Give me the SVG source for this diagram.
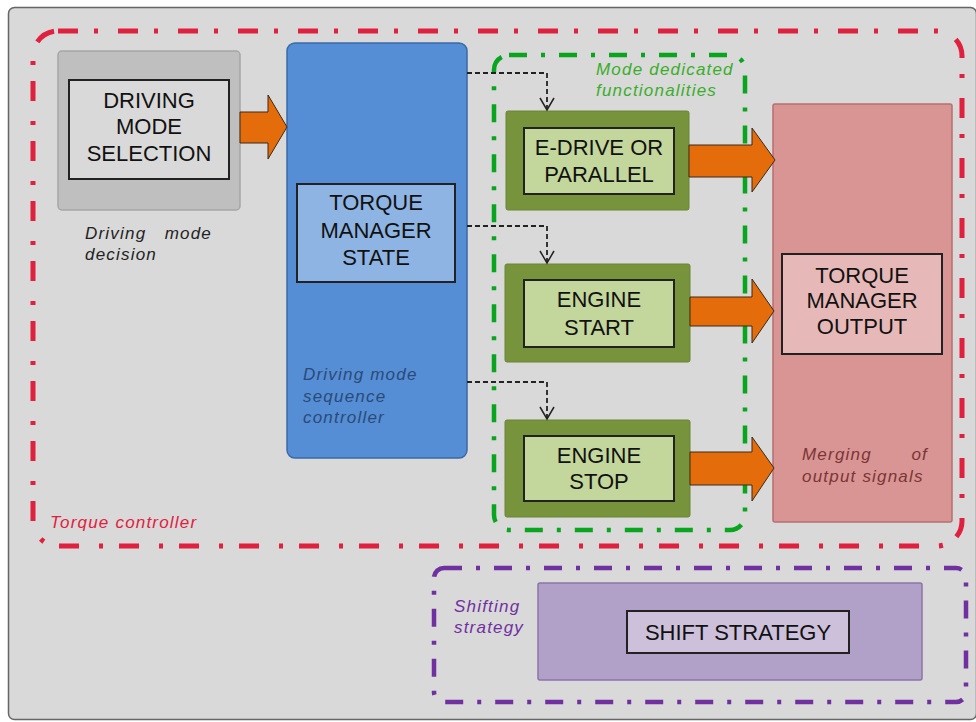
<svg xmlns="http://www.w3.org/2000/svg" width="976" height="722" viewBox="0 0 976 722">
<style>
text{font-family:"Liberation Sans",Arial,sans-serif;}
.bt{font-size:22px;fill:#111;text-anchor:middle;}
.lab{font-size:17px;font-style:italic;letter-spacing:1.2px;}
.dash{fill:none;stroke:#222;stroke-width:1.8;stroke-dasharray:5 3;}
.orange{fill:#e46c0a;stroke:#3a2a1a;stroke-width:1;}
.inner{stroke:#222;stroke-width:2;}
</style>
<defs>
<marker id="chev" markerUnits="userSpaceOnUse" markerWidth="16" markerHeight="16" refX="13" refY="8" orient="auto">
<path d="M1,1 L13,8 L1,15" fill="none" stroke="#222" stroke-width="1.5" stroke-dasharray="none"/>
</marker>
</defs>
<rect x="8.5" y="7.5" width="968" height="712" rx="6" fill="#d9d9d9" stroke="#666" stroke-width="1.5"/>
<g id="torque-controller">
<rect x="33" y="31" width="929" height="515" rx="25" fill="none" stroke="#e0203f" stroke-width="5" stroke-dasharray="20 16 4 20"/>
<text class="lab" x="50" y="528" fill="#e0203f">Torque controller</text>
</g>
<g id="mode-dedicated">
<rect x="494" y="55" width="251" height="475" rx="15" fill="none" stroke="#0aa51e" stroke-width="4.5" stroke-dasharray="18 14 4 14"/>
<text class="lab" x="596" y="75" fill="#3aae2a">Mode dedicated</text>
<text class="lab" x="596" y="96" fill="#3aae2a">functionalities</text>
</g>
<g id="shifting-strategy">
<rect x="434" y="568" width="532" height="134" rx="10" fill="none" stroke="#7030a0" stroke-width="4.5" stroke-dasharray="18 14 4 14"/>
<text class="lab" x="454" y="612" fill="#7030a0">Shifting</text>
<text class="lab" x="454" y="633" fill="#7030a0">strategy</text>
</g>
<g id="driving-mode-selection">
<rect x="58" y="51" width="182" height="159" rx="4" fill="#bfbfbf" stroke="#a6a6a6" stroke-width="1.5"/>
<rect class="inner" x="69" y="80" width="160" height="99" fill="#d9d9d9"/>
<text class="bt" x="149" y="108">DRIVING</text>
<text class="bt" x="149" y="134">MODE</text>
<text class="bt" x="149" y="161">SELECTION</text>
<text class="lab" x="85" y="239" fill="#222">Driving</text>
<text class="lab" x="212" y="239" fill="#222" text-anchor="end">mode</text>
<text class="lab" x="85" y="260" fill="#222">decision</text>
</g>
<g id="torque-manager-state">
<rect x="287" y="43" width="180" height="415" rx="8" fill="#558ed5" stroke="#3a6aa8" stroke-width="1.5"/>
<rect class="inner" x="297" y="184" width="158" height="98" fill="#8eb4e3"/>
<text class="bt" x="376" y="210">TORQUE</text>
<text class="bt" x="376" y="238">MANAGER</text>
<text class="bt" x="376" y="265">STATE</text>
<text class="lab" x="303" y="380" fill="#2b4a78">Driving mode</text>
<text class="lab" x="303" y="402" fill="#2b4a78">sequence</text>
<text class="lab" x="303" y="423" fill="#2b4a78">controller</text>
</g>
<g id="e-drive">
<rect x="506" y="111" width="183" height="99" rx="2" fill="#77933c" stroke="#6a8534" stroke-width="1"/>
<rect class="inner" x="524" y="128" width="150" height="66" fill="#c3d69b"/>
<text class="bt" x="599" y="155">E-DRIVE OR</text>
<text class="bt" x="599" y="182">PARALLEL</text>
</g>
<g id="engine-start">
<rect x="505" y="264" width="185" height="98" rx="2" fill="#77933c" stroke="#6a8534" stroke-width="1"/>
<rect class="inner" x="524" y="280" width="150" height="67" fill="#c3d69b"/>
<text class="bt" x="599" y="307">ENGINE</text>
<text class="bt" x="599" y="335">START</text>
</g>
<g id="engine-stop">
<rect x="505" y="420" width="185" height="97" rx="2" fill="#77933c" stroke="#6a8534" stroke-width="1"/>
<rect class="inner" x="524" y="436" width="150" height="65" fill="#c3d69b"/>
<text class="bt" x="599" y="463">ENGINE</text>
<text class="bt" x="599" y="489">STOP</text>
</g>
<g id="torque-manager-output">
<rect x="773" y="104" width="179" height="418" rx="2" fill="#d99594" stroke="#b86e6d" stroke-width="1.5"/>
<rect class="inner" x="782" y="254" width="160" height="100" fill="#e6b9b8"/>
<text class="bt" x="862" y="283">TORQUE</text>
<text class="bt" x="862" y="308">MANAGER</text>
<text class="bt" x="862" y="334">OUTPUT</text>
<text class="lab" x="802" y="460" fill="#7a3535">Merging</text>
<text class="lab" x="928" y="460" fill="#7a3535" text-anchor="end">of</text>
<text class="lab" x="802" y="482" fill="#7a3535">output signals</text>
</g>
<g id="shift-strategy">
<rect x="538" y="583" width="384" height="97" rx="2" fill="#b1a0c7" stroke="#8a74a8" stroke-width="1.5"/>
<rect class="inner" x="627" y="611" width="222" height="42" fill="#ccc0da"/>
<text class="bt" x="738" y="640">SHIFT STRATEGY</text>
</g>
<g id="connectors">
<polygon class="orange" points="240,112 268,112 268,95 287,127 268,159 268,143 240,143"/>
<polygon class="orange" points="689,145 752,145 752,128 775,160 752,192 752,177 689,177"/>
<polygon class="orange" points="690,297 752,297 752,279 774,311 752,343 752,326 690,326"/>
<polygon class="orange" points="690,452 752,452 752,437 774,468 752,501 752,485 690,485"/>
<path class="dash" d="M467,73 H547 V110" marker-end="url(#chev)"/>
<path class="dash" d="M467,226 H547 V263" marker-end="url(#chev)"/>
<path class="dash" d="M467,382 H547 V419" marker-end="url(#chev)"/>
</g>
</svg>
